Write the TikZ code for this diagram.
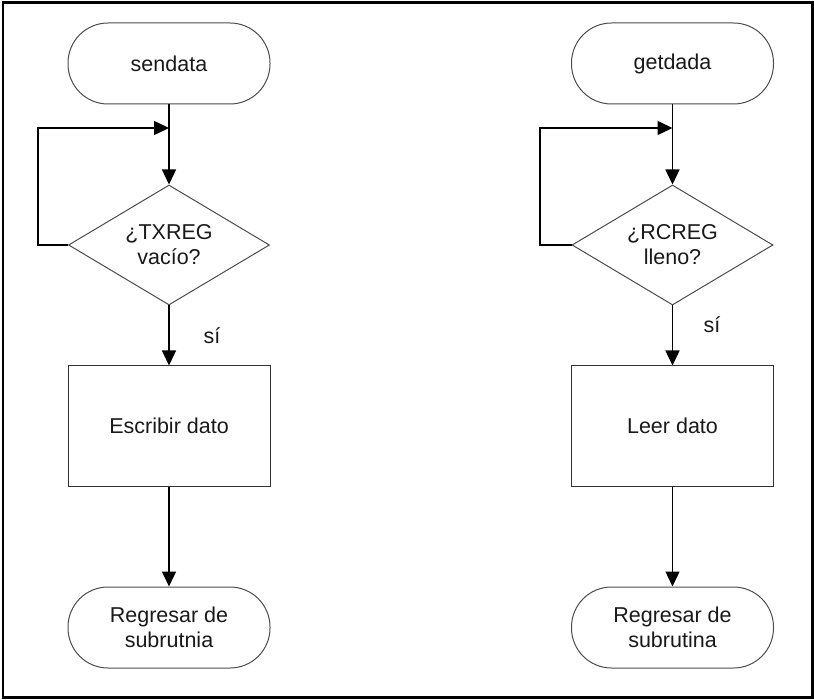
\documentclass[tikz,border=0pt]{standalone}
\usepackage{fontspec}
\setmainfont{Liberation Sans}
\usetikzlibrary{shapes.geometric,arrows.meta}
\begin{document}
\begin{tikzpicture}[x=1pt,y=-1pt,
  txt/.style={font=\fontsize{21.5}{25}\selectfont, align=center, text=black!90},
  term/.style={txt, draw=black!70, line width=1pt, rectangle, rounded corners=40pt,
    minimum width=202pt, minimum height=81pt, inner sep=0pt},
  decis/.style={txt, draw=black!70, line width=1pt, diamond, aspect=1.675,
    minimum width=201pt, minimum height=120pt, inner sep=0pt},
  procbox/.style={txt, draw=black!80, line width=1pt, rectangle,
    minimum width=202pt, minimum height=120pt, inner sep=0pt},
  arr/.style={draw=black, line width=1.4pt, -{Triangle[length=15pt,width=14pt]}},
  ln/.style={draw=black, line width=1.4pt}]
\useasboundingbox (0,0) rectangle (814,700);
\draw[line width=2.7pt] (3,2.5) rectangle (812.5,697.3);

% left column
\node[term]   (s1) at (169,63.5)  {sendata};
\node[decis]  (d1) at (169,245)   {¿TXREG\\vacío?};
\node[procbox](p1) at (169,426)   {Escribir dato};
\node[term]   (e1) at (169,627.5) {Regresar de\\subrutnia};
\coordinate (j1) at (169,128);
\node[txt] (y1) at (212,336) {sí};
\draw[arr] (s1) -- (d1);
\draw[arr] (d1.west) -- (38,245) |- (j1);
\draw[arr] (d1) -- (p1);
\draw[arr] (p1) -- (e1);

% right column
\node[term]   (s2) at (672.5,63.5)  {getdada};
\node[decis]  (d2) at (672.5,245)   {¿RCREG\\lleno?};
\node[procbox](p2) at (672.5,426)   {Leer dato};
\node[term]   (e2) at (672.5,627.5) {Regresar de\\subrutina};
\coordinate (j2) at (672.5,128);
\node[txt] (y2) at (712,325) {sí};
\draw[arr] (s2) -- (d2);
\draw[arr] (d2.west) -- (540,245) |- (j2);
\draw[arr] (d2) -- (p2);
\draw[arr] (p2) -- (e2);
\end{tikzpicture}
\end{document}
